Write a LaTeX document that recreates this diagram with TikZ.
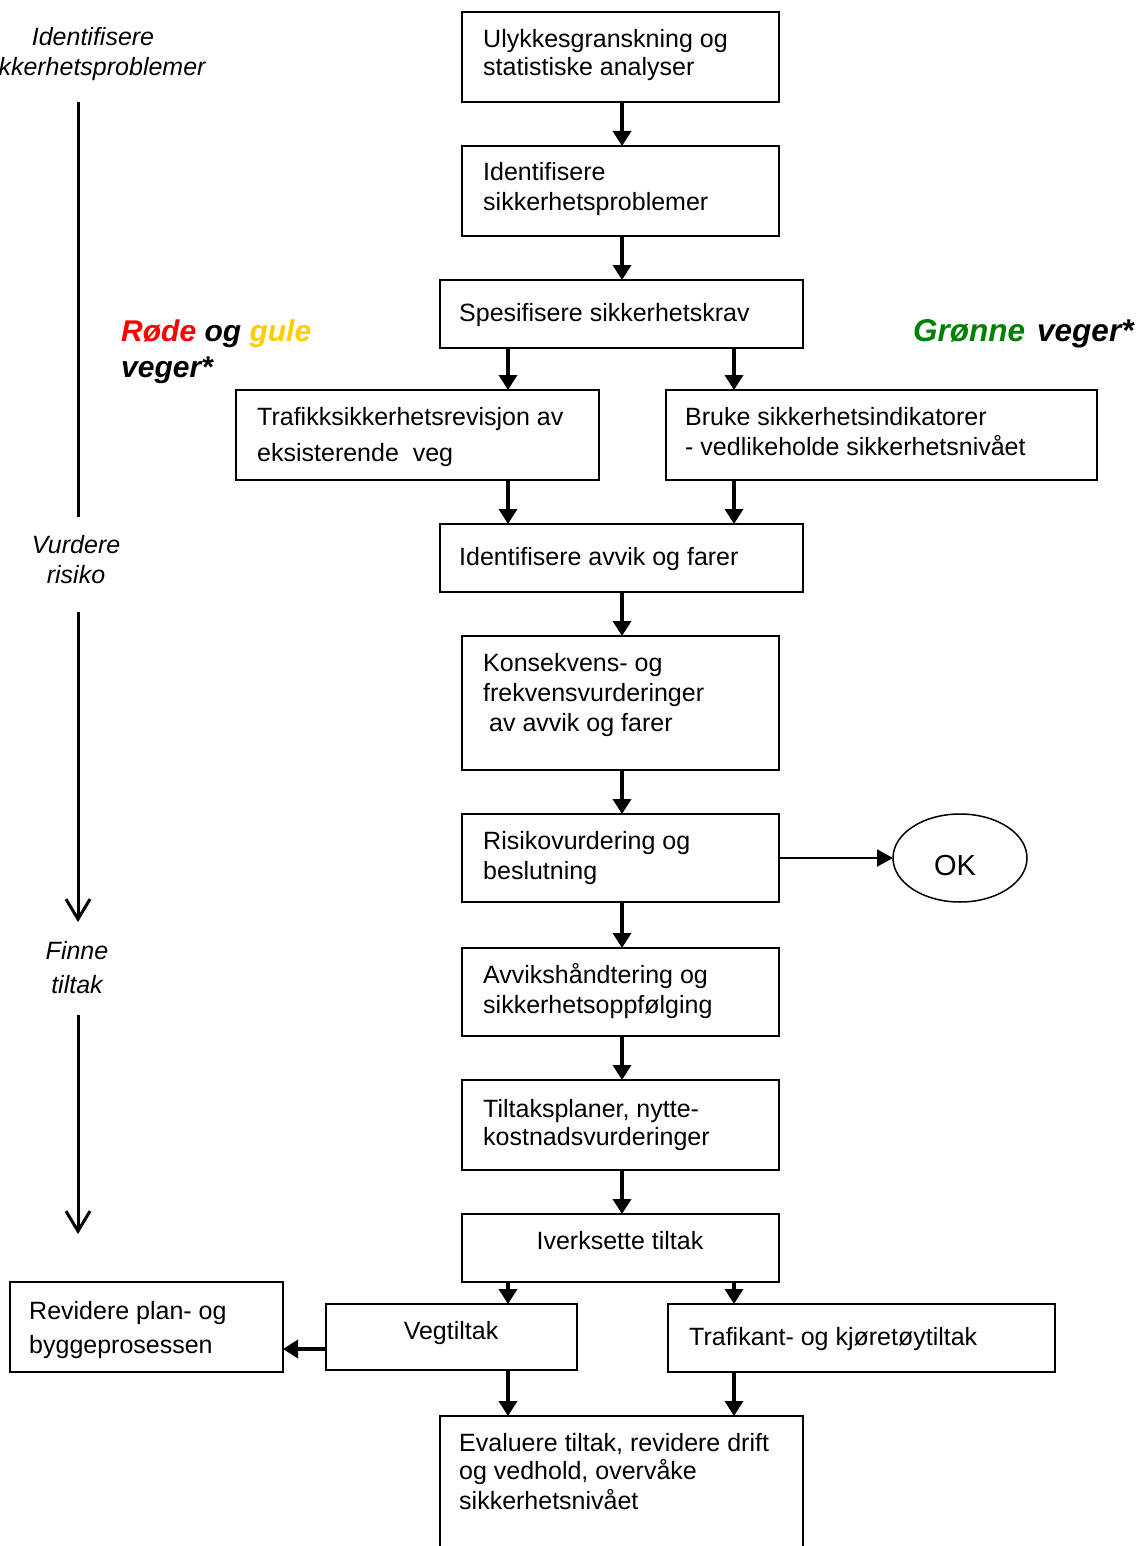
\documentclass[tikz,border=0pt]{standalone}
\usepackage{fontspec}
\setmainfont{Liberation Sans}
\usetikzlibrary{arrows.meta,shapes.geometric}
\definecolor{roadred}{RGB}{255,0,0}
\definecolor{roadyellow}{RGB}{255,204,0}
\definecolor{roadgreen}{RGB}{0,128,0}
\begin{document}
\begin{tikzpicture}[x=1pt,y=-1pt,
  box/.style={draw, line width=1.8pt, rectangle, inner sep=0pt, outer sep=0pt},
  body/.style={anchor=base west, inner sep=0pt, font=\fontsize{25}{29}\selectfont},
  bodyc/.style={anchor=base, inner sep=0pt, font=\fontsize{25}{29}\selectfont},
  side/.style={anchor=base, inner sep=0pt, align=center, font=\fontsize{25}{30}\selectfont\itshape},
  road/.style={anchor=base west, inner sep=0pt, font=\fontsize{30}{36}\selectfont\bfseries\itshape},
  flow/.style={line width=3.5pt, -{Triangle[width=18pt,length=15pt]}},
  thin flow/.style={line width=2pt, -{Triangle[width=17pt,length=16pt]}},
  axis/.style={line width=3pt},
  axis arrow/.style={line width=3pt, -{Straight Barb[width=24pt,length=20pt,line width=3pt]}}
]
\useasboundingbox (0,0) rectangle (1142,1546);
\begin{scope}
\clip (0,0) rectangle (1142,1546);

% process boxes
\node[box, minimum width=317pt, minimum height=90pt]  (b1)  at (620.5,57)   {};
\node[box, minimum width=317pt, minimum height=90pt]  (b2)  at (620.5,191)  {};
\node[box, minimum width=363pt, minimum height=68pt]  (b3)  at (621.5,314)  {};
\node[box, minimum width=363pt, minimum height=90pt]  (b4)  at (417.5,435)  {};
\node[box, minimum width=431pt, minimum height=90pt]  (b5)  at (881.5,435)  {};
\node[box, minimum width=363pt, minimum height=68pt]  (b6)  at (621.5,558)  {};
\node[box, minimum width=317pt, minimum height=134pt] (b7)  at (620.5,703)  {};
\node[box, minimum width=317pt, minimum height=88pt]  (b8)  at (620.5,858)  {};
\node[draw, ellipse, line width=1.5pt, minimum width=134pt, minimum height=88pt, inner sep=0pt, outer sep=0pt] (ok) at (960,858) {};
\node[box, minimum width=317pt, minimum height=88pt]  (b10) at (620.5,992)  {};
\node[box, minimum width=317pt, minimum height=90pt]  (b11) at (620.5,1125) {};
\node[box, minimum width=317pt, minimum height=68pt]  (b12) at (620.5,1248) {};
\node[box, minimum width=251pt, minimum height=66pt]  (b13) at (451.5,1337) {};
\node[box, minimum width=387pt, minimum height=68pt]  (b14) at (861.5,1338) {};
\node[box, minimum width=273pt, minimum height=90pt]  (b15) at (146.5,1327) {};
\node[box, minimum width=363pt, minimum height=184pt] (b16) at (621.5,1508) {};

% box texts
\node[body] (t1a) at (483,48)  {Ulykkesgranskning og};
\node[body] (t1b) at (483,76)  {statistiske analyser};
\node[body] (t2a) at (483,181) {Identifisere};
\node[body] (t2b) at (483,211) {sikkerhetsproblemer};
\node[body] (t3)  at (459,321) {Spesifisere sikkerhetskrav};
\node[body] (t4a) at (257,425) {Trafikksikkerhetsrevisjon av};
\node[body] (t4b) at (257,461) {eksisterende\ \ veg};
\node[body] (t5a) at (685,425) {Bruke sikkerhetsindikatorer};
\node[body] (t5b) at (685,455) {- vedlikeholde sikkerhetsnivået};
\node[body] (t6)  at (459,565) {Identifisere avvik og farer};
\node[body] (t7a) at (483,671) {Konsekvens- og};
\node[body] (t7b) at (483,701) {frekvensvurderinger};
\node[body] (t7c) at (489,731) {av avvik og farer};
\node[body] (t8a) at (483,849) {Risikovurdering og};
\node[body] (t8b) at (483,879) {beslutning};
\node[anchor=base, inner sep=0pt, font=\fontsize{29}{34}\selectfont] (tok) at (955,875) {OK};
\node[body] (t10a) at (483,983)  {Avvikshåndtering og};
\node[body] (t10b) at (483,1013) {sikkerhetsoppfølging};
\node[body] (t11a) at (483,1117) {Tiltaksplaner, nytte-};
\node[body] (t11b) at (483,1145) {kostnadsvurderinger};
\node[bodyc] (t12) at (620,1249) {Iverksette tiltak};
\node[bodyc] (t13) at (451,1339) {Vegtiltak};
\node[body] (t14)  at (689,1345) {Trafikant- og kjøretøytiltak};
\node[body] (t15a) at (29,1319)  {Revidere plan- og};
\node[body] (t15b) at (29,1353)  {byggeprosessen};
\node[body] (t16a) at (459,1451) {Evaluere tiltak, revidere drift};
\node[body] (t16b) at (459,1479) {og vedhold, overvåke};
\node[body] (t16c) at (459,1509) {sikkerhetsnivået};

% road categories
\node[road] (red) at (121,341) {\textcolor{roadred}{Røde} og \textcolor{roadyellow}{gule}};
\node[road] (redb) at (121,377) {veger*};
\node[road, font=\fontsize{31.5}{36}\selectfont\bfseries\itshape] (green) at (913,341) {\textcolor{roadgreen}{Grønne}\hspace{12pt}veger*};

% phase labels along the left axis (anchored at the baseline of the last line)
\node[side] (p1) at (93,76)  {Identifisere\\sikkerhetsproblemer};
\node[side] (p2) at (76,583) {Vurdere\\risiko};
\node[font=\fontsize{25}{34}\selectfont\itshape, anchor=base, inner sep=0pt, align=center] (p3) at (77,993) {Finne\\tiltak};

\coordinate (a1s) at (78,102);
\coordinate (a1e) at (78,517);
\coordinate (a2s) at (78,612);
\coordinate (a2e) at (78,922);
\coordinate (a3s) at (78,1015);
\coordinate (a3e) at (78,1234);
\draw[axis] (a1s) -- (a1e);
\draw[axis arrow] (a2s) -- (a2e);
\draw[axis arrow] (a3s) -- (a3e);

% connectors
\coordinate (xl) at (508,0);
\coordinate (xr) at (734,0);
\draw[flow] (b1.south -| 622,0) -- (b2.north -| 622,0);
\draw[flow] (b2.south -| 622,0) -- (b3.north -| 622,0);
\draw[flow] (b3.south -| xl) -- (b4.north -| xl);
\draw[flow] (b3.south -| xr) -- (b5.north -| xr);
\draw[flow] (b4.south -| xl) -- (b6.north -| xl);
\draw[flow] (b5.south -| xr) -- (b6.north -| xr);
\draw[flow] (b6.south -| 622,0) -- (b7.north -| 622,0);
\draw[flow] (b7.south -| 622,0) -- (b8.north -| 622,0);
\draw[thin flow] (b8.east) -- (ok.west);
\draw[flow] (b8.south -| 622,0) -- (b10.north -| 622,0);
\draw[flow] (b10.south -| 622,0) -- (b11.north -| 622,0);
\draw[flow] (b11.south -| 622,0) -- (b12.north -| 622,0);
\draw[flow] (b12.south -| xl) -- (b13.north -| xl);
\draw[flow] (b12.south -| xr) -- (b14.north -| xr);
\draw[flow] (b13.west |- 0,1349) -- (b15.east |- 0,1349);
\draw[flow] (b13.south -| xl) -- (b16.north -| xl);
\draw[flow] (b14.south -| xr) -- (b16.north -| xr);
\end{scope}
\end{tikzpicture}
\end{document}
